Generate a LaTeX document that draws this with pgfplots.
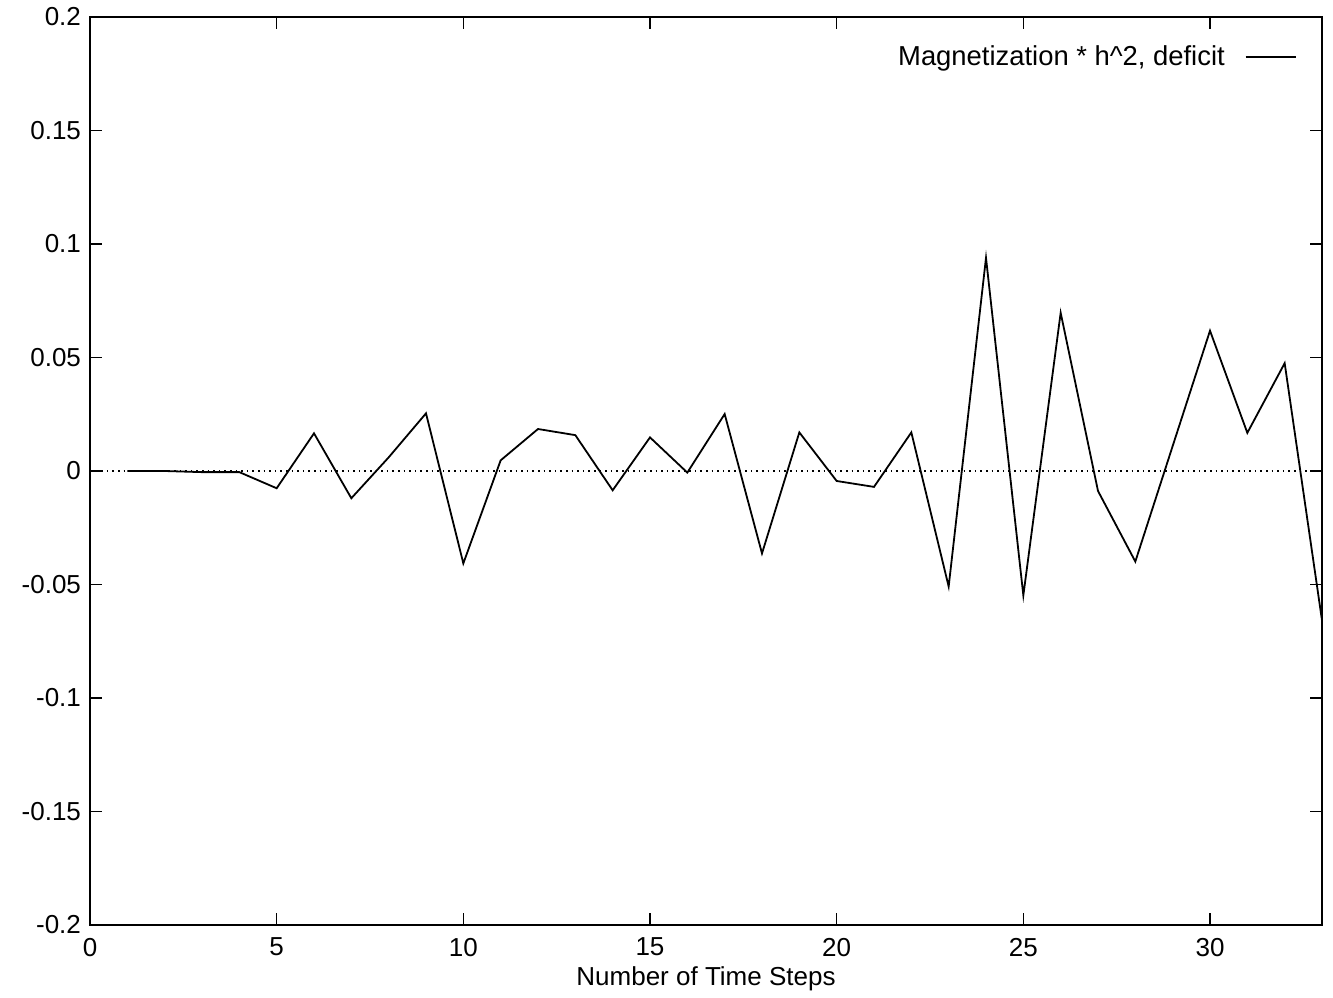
\documentclass[border=0pt]{standalone}
\usepackage{fontspec}
\setmainfont{Liberation Sans}
\usepackage{pgfplots}
\pgfplotsset{compat=1.18}
\begin{document}
\fontsize{13}{15}\selectfont
\begin{tikzpicture}
\begin{axis}[
  name=ax,
  scale only axis,
  width=616pt, height=454pt,
  xmin=0, xmax=33, ymin=-0.2, ymax=0.2,
  xtick={0,5,...,30},
  ytick={-0.2,-0.15,-0.1,-0.05,0,0.05,0.1,0.15,0.2},
  scaled y ticks=false,
  yticklabel style={/pgf/number format/fixed, /pgf/number format/precision=2},
  xticklabel style={yshift=-2pt},
  /pgf/number format/assume math mode=true,
  tick align=inside,
  major tick length=6pt,
  tick style={line width=0.7pt, black},
  axis line style={line width=0.9pt},
  xlabel={Number of Time Steps},
  xlabel style={yshift=4pt},
  ticklabel style={font=\fontsize{13}{15}\selectfont},
  label style={font=\fontsize{13}{15}\selectfont},
  legend plot pos=right,
  legend style={draw=none, fill=none, at={(1,1)}, anchor=north east, xshift=-9.5pt, yshift=-10pt, font=\fontsize{13.7}{16}\selectfont},
  legend cell align=right,
  legend image code/.code={\path (0pt,0pt); \draw[#1] (8pt,0pt) -- (33pt,0pt);},
]
\addplot[black, line width=0.9pt, sharp plot] coordinates {
(1,0) (2,0) (3,-0.0005) (4,-0.0005) (5,-0.0076) (6,0.0166) (7,-0.012) (8,0.006)
(9,0.0254) (10,-0.0407) (11,0.0047) (12,0.0185) (13,0.0158) (14,-0.0085)
(15,0.0148) (16,-0.0007) (17,0.0251) (18,-0.0363) (19,0.0170) (20,-0.0044)
(21,-0.007) (22,0.017) (23,-0.0509) (24,0.0939) (25,-0.0548) (26,0.0697)
(27,-0.0088) (28,-0.0399) (29,0.011) (30,0.0618) (31,0.0168) (32,0.0475) (33,-0.0658)
};
\addlegendentry{Magnetization * h\^{}2, deficit}
\addplot[black, dotted, line width=0.8pt, forget plot] coordinates {(0,0) (33,0)};
\end{axis}
\pgfresetboundingbox
\path ([shift={(-45pt,-36pt)}]ax.south west) rectangle ([shift={(5.5pt,8.5pt)}]ax.north east);
\end{tikzpicture}
\end{document}
